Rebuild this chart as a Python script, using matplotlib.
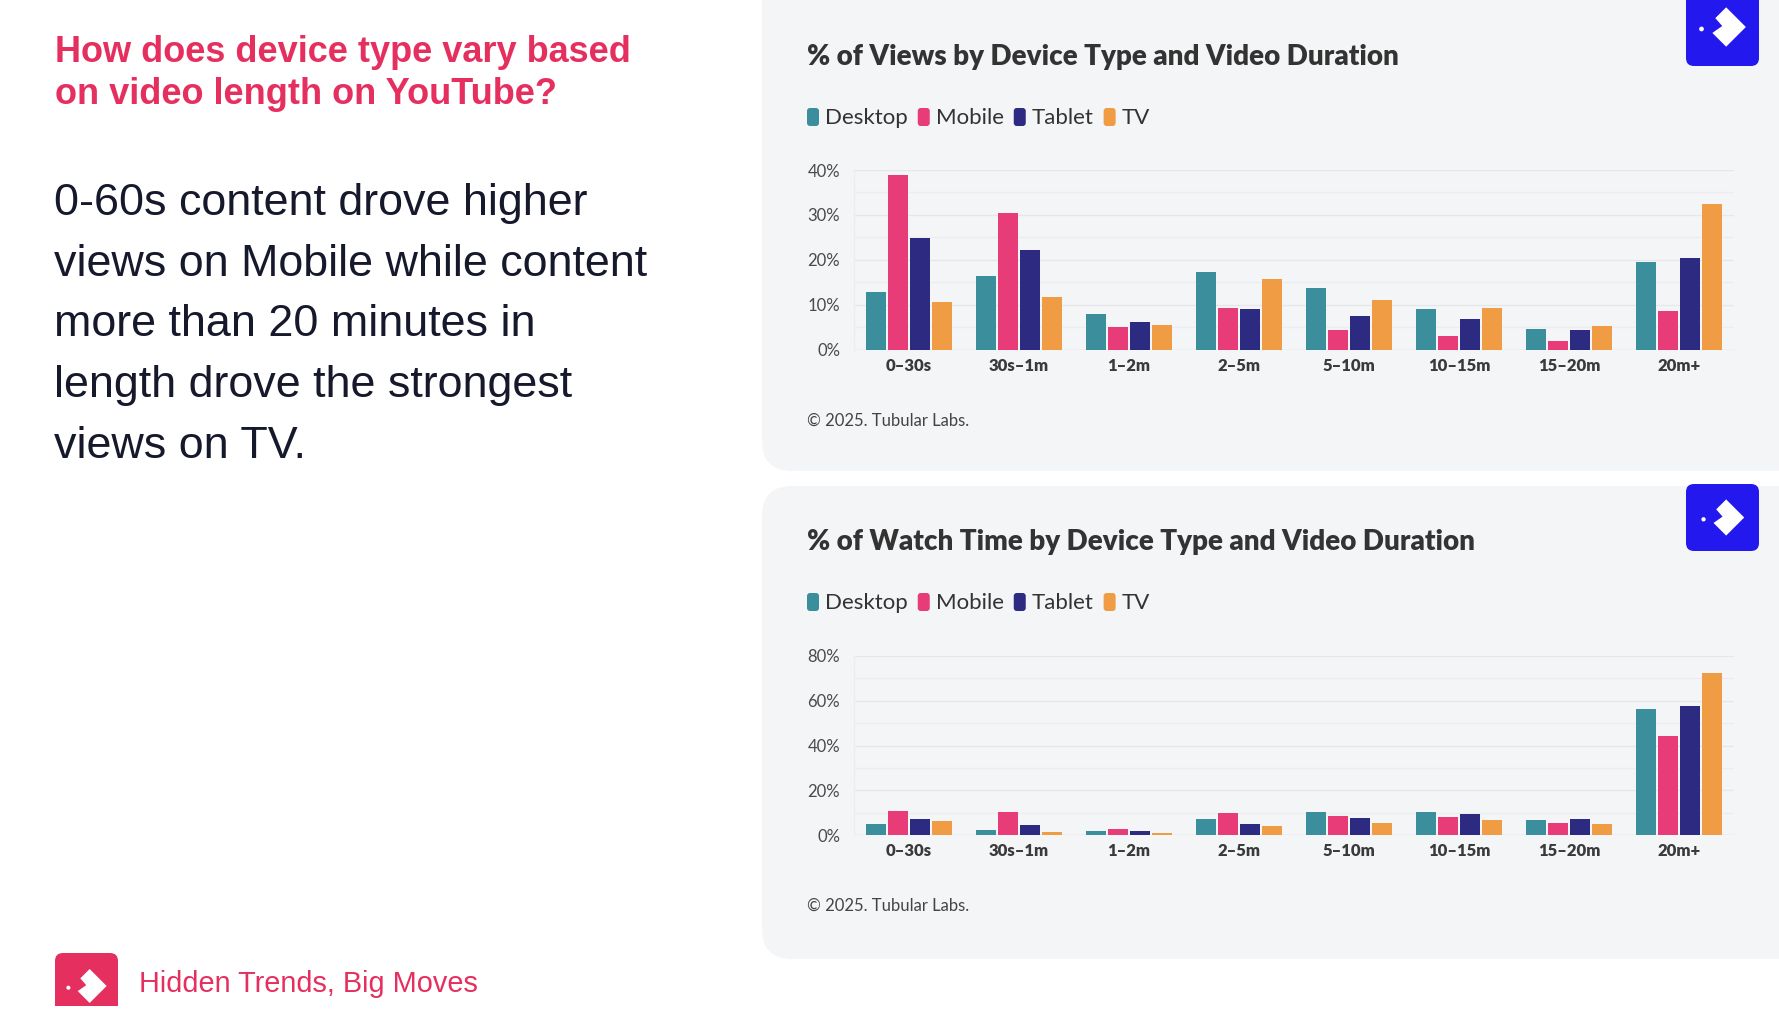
import matplotlib
matplotlib.use("Agg")
import matplotlib.pyplot as plt
from matplotlib.patches import FancyBboxPatch, Polygon, Circle, Rectangle
import numpy as np

# ---------------- data ----------------
categories = ["0–30s", "30s–1m", "1–2m", "2–5m", "5–10m", "10–15m", "15–20m", "20m+"]
devices = ["Desktop", "Mobile", "Tablet", "TV"]

views_desktop = [12.9, 16.4, 7.9, 17.2, 13.6, 9.1, 4.6, 19.4]
views_mobile = [38.9, 30.4, 5.1, 9.2, 4.4, 3.1, 1.8, 8.5]
views_tablet = [24.8, 22.2, 6.1, 9.0, 7.4, 6.9, 4.3, 20.5]
views_tv = [10.5, 11.7, 5.4, 15.6, 11.1, 9.2, 5.2, 32.5]

watch_desktop = [5.1, 2.2, 1.6, 7.3, 10.4, 10.1, 6.9, 56.5]
watch_mobile = [10.9, 10.4, 2.8, 10.0, 8.6, 8.0, 5.4, 44.3]
watch_tablet = [7.0, 4.3, 1.8, 5.1, 7.7, 9.5, 7.2, 57.7]
watch_tv = [6.3, 1.2, 0.7, 3.9, 5.2, 6.6, 4.8, 72.6]

views_ticks = [0, 10, 20, 30, 40]
watch_ticks = [0, 20, 40, 60, 80]

headline_lines = ["How does device type vary based",
                  "on video length on YouTube?"]
body_lines = ["0-60s content drove higher",
              "views on Mobile while content",
              "more than 20 minutes in",
              "length drove the strongest",
              "views on TV."]
views_title = "% of Views by Device Type and Video Duration"
watch_title = "% of Watch Time by Device Type and Video Duration"
credit = "© 2025. Tubular Labs."
footer = "Hidden Trends, Big Moves"

colors = ["#3B8E9B", "#E83C78", "#2D2A82", "#F09C44"]
PINK = "#E5305F"
BLUE = "#2318EE"
PANEL = "#F4F5F7"
DARK = "#333333"

W, H = 1779, 1032
fig = plt.figure(figsize=(W / 100, H / 100), dpi=100)
fig.patch.set_facecolor("white")

bg = fig.add_axes([0, 0, 1, 1], zorder=0)
bg.set_xlim(0, W)
bg.set_ylim(H, 0)
bg.axis("off")

UI = ["Lato", "DejaVu Sans"]
SANS = ["Liberation Sans", "DejaVu Sans"]

# panels
for (y0, y1) in [(-40, 471), (486, 959)]:
    bg.add_patch(FancyBboxPatch((762, y0), 1200, y1 - y0,
                                boxstyle="round,pad=0,rounding_size=30",
                                fc=PANEL, ec="none", zorder=1))


def logo(x0, y0, w, h, color, r=8):
    bg.add_patch(FancyBboxPatch((x0, y0), w, h,
                                boxstyle=f"round,pad=0,rounding_size={r}",
                                fc=color, ec="none", zorder=2))
    cx, cy = x0 + w * 0.55, y0 + h * 0.5
    s = min(w, h) * 0.27
    pts = [(cx + s, cy), (cx, cy - s), (cx - s * 0.55, cy - s * 0.45),
           (cx - s * 0.2, cy - s * 0.05), (cx - s * 0.7, cy + s * 0.3),
           (cx, cy + s)]
    bg.add_patch(Polygon(pts, closed=True, fc="white", ec="none", zorder=3))
    bg.add_patch(Circle((cx - s * 1.25, cy + s * 0.1), s * 0.12, fc="white",
                        ec="none", zorder=3))


logo(1686, -12, 73, 78, BLUE)
logo(1686, 484, 73, 67, BLUE)
logo(55, 953, 63, 66, PINK)
bg.add_patch(Rectangle((40, 1006), 100, 40, fc="white", ec="none", zorder=3.5))

# left text
for i, line in enumerate(headline_lines):
    bg.text(55, 52.5 + 42.5 * i, line, color=PINK, fontsize=26, fontweight="bold",
            family=SANS, va="center", ha="left", zorder=4)
for i, line in enumerate(body_lines):
    bg.text(54, 204 + 60.5 * i, line, color="#16192C", fontsize=32.3,
            family=SANS, va="center", ha="left", zorder=4)
bg.text(139, 984, footer, color=PINK, fontsize=20.8, family=SANS,
        va="center", ha="left", zorder=4)

renderer = fig.canvas.get_renderer()


def legend(y):
    x = 807
    for name, c in zip(devices, colors):
        bg.add_patch(FancyBboxPatch((x, y - 9), 12, 18,
                                    boxstyle="round,pad=0,rounding_size=3",
                                    fc=c, ec="none", zorder=4))
        t = bg.text(x + 18, y + 1, name, color=DARK, fontsize=16, family=UI,
                    va="center", ha="left", zorder=4)
        bb = t.get_window_extent(renderer)
        x = x + 18 + bb.width + 10


def chart(top, bottom, title_y, legend_y, credit_y, title, series, ticks):
    bg.text(807, title_y, title, color=DARK, fontsize=20.0, fontweight="heavy",
            family=UI, va="center", ha="left", zorder=4)
    legend(legend_y)
    bg.text(807, credit_y, credit, color="#444444", fontsize=12,
            family=UI, va="center", ha="left", zorder=4)
    ax = fig.add_axes([854 / W, 1 - bottom / H, 880 / W, (bottom - top) / H],
                      zorder=5)
    ax.patch.set_alpha(0)
    x = np.arange(len(categories))
    offs = [-0.3, -0.1, 0.1, 0.3]
    for vals, c, o in zip(series, colors, offs):
        ax.bar(x + o, vals, width=0.173, color=c, zorder=3)
    ax.set_xlim(-0.5, len(categories) - 0.5)
    ax.set_ylim(ticks[0], ticks[-1])
    ax.set_yticks(ticks)
    ax.set_yticklabels([f"{t}%" for t in ticks])
    step = ticks[1] - ticks[0]
    ax.set_yticks([t + step / 2 for t in ticks[:-1]], minor=True)
    ax.grid(axis="y", which="major", color="#E6E7EA", lw=1, zorder=0)
    ax.grid(axis="y", which="minor", color="#ECEDF0", lw=0.9, zorder=0)
    ax.set_xticks(x)
    ax.set_xticklabels(categories)
    for lab in ax.get_xticklabels():
        lab.set_fontweight("heavy")
        lab.set_family(UI)
        lab.set_fontsize(12)
        lab.set_color("#3A3A3A")
    for lab in ax.get_yticklabels():
        lab.set_family(UI)
        lab.set_fontsize(12)
        lab.set_color("#4A4A4A")
    ax.tick_params(axis="both", which="both", length=0)
    ax.tick_params(axis="y", pad=10)
    ax.tick_params(axis="x", pad=6)
    for side in ["top", "right", "bottom"]:
        ax.spines[side].set_visible(False)
    ax.spines["left"].set_color("#ECEDF0")
    ax.spines["left"].set_linewidth(1)
    ax.axhline(0, color="#E4E5E8", lw=1, zorder=2)
    return ax


chart(170, 349.5, 57, 117, 421, views_title,
      [views_desktop, views_mobile, views_tablet, views_tv], views_ticks)
chart(656, 835, 542, 602, 906, watch_title,
      [watch_desktop, watch_mobile, watch_tablet, watch_tv], watch_ticks)

fig.savefig("out.png", dpi=100, facecolor="white")
